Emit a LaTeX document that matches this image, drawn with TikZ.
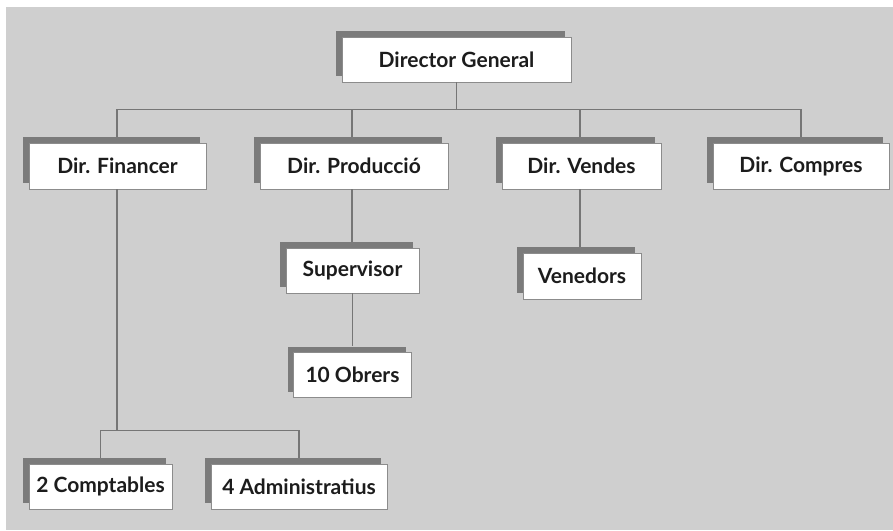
\documentclass[tikz,border=0pt]{standalone}
\usepackage{fontspec}
\setmainfont{Lato}
\usepackage{tikz}
\usetikzlibrary{shadows}
\definecolor{bggray}{HTML}{CFCFCF}
\definecolor{shgray}{HTML}{7B7B7B}
\definecolor{edgegray}{HTML}{8C8C8C}
\definecolor{linkgray}{HTML}{767676}
\definecolor{inkgray}{HTML}{1C1C1C}

\begin{document}
\begin{tikzpicture}[
  x=1pt, y=-1pt,
  box/.style={draw=edgegray, line width=0.8pt, fill=white, minimum height=45pt,
              inner sep=0pt, text=inkgray, font=\fontsize{21}{23}\selectfont\bfseries,
              drop shadow={shadow xshift=-6pt, shadow yshift=6pt, fill=shgray, opacity=1}},
  link/.style={linkgray, line width=1.1pt}
]
\useasboundingbox (0,0) rectangle (893,530);
\fill[bggray] (6,7) rectangle (893,530);
% ---------------- top ----------------
\node[box, minimum width=229pt] (dg) at (456.5,59.5) {Director General};
% ---------------- directors ----------------
\node[box, minimum width=177pt, minimum height=46pt] (fin) at (117.5,166) {Dir. Financer};
\node[box, minimum width=188pt, minimum height=46pt] (prod) at (354,166) {Dir. Producció};
\node[box, minimum width=159pt, minimum height=46pt] (vend) at (581.5,166) {Dir. Vendes};
\node[box, minimum width=176pt, minimum height=46pt] (comp) at (801,166) {Dir. Compres};
% ---------------- staff ----------------
\node[box, minimum width=133pt] (sup) at (352.5,270.5) {Supervisor};
\node[box, minimum width=118pt] (obr) at (352.5,375) {10 Obrers};
\node[box, minimum width=118pt, minimum height=46pt] (ven) at (582,276) {Venedors};
\node[box, minimum width=143pt] (cpt) at (100.5,486.5) {2 Comptables};
\node[box, minimum width=176pt] (adm) at (299,486.5) {4 Administratius};
% ---------------- links ----------------
\draw[link] (dg.south) -- ++(0,27.5) -| ([xshift=-0.5pt,yshift=6pt]fin.north);
\draw[link] (dg.south) -- ++(0,27.5) -| ([xshift=-2pt,yshift=6pt]prod.north);
\draw[link] (dg.south) -- ++(0,27.5) -| ([xshift=-1.5pt,yshift=6pt]vend.north);
\draw[link] (dg.south) -- ++(0,27.5) -| ([yshift=6pt]comp.north);
\draw[link] ([xshift=-2pt]prod.south) -- ([xshift=-2pt,yshift=6pt]prod.south |- sup.north);
\draw[link] (sup.south) -- ([yshift=6pt]obr.north);
\draw[link] ([xshift=-1.5pt]vend.south) -- ([xshift=-1.5pt,yshift=6pt]vend.south |- ven.north);
\draw[link] ([xshift=-0.5pt]fin.south) -- ++(0,241) -| ([yshift=6pt]cpt.north);
\draw[link] ([xshift=-0.5pt]fin.south) -- ++(0,241) -| ([yshift=6pt]adm.north);
\end{tikzpicture}
\end{document}
